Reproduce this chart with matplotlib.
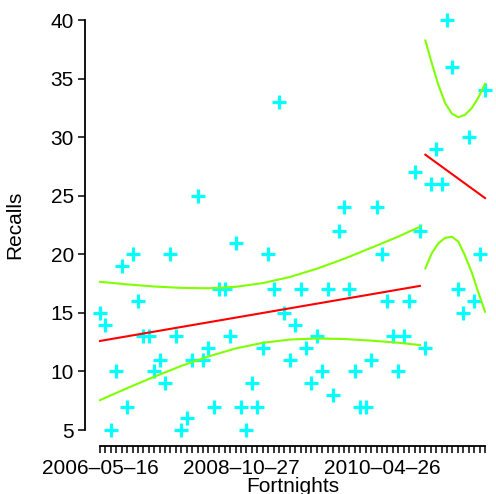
import numpy as np
import matplotlib
matplotlib.use("Agg")
import matplotlib.pyplot as plt

plt.rcParams['font.family'] = ['Liberation Sans', 'DejaVu Sans']

# recalls per fortnight
recalls = [15, 14, 5, 10, 19, 7, 20, 16, 13, 13, 10, 11, 9, 20, 13, 5, 6, 11,
           25, 11, 12, 7, 17, 17, 13, 21, 7, 5, 9, 7, 12, 20, 17, 33, 15, 11,
           14, 17, 12, 9, 13, 10, 17, 8, 22, 24, 17, 10, 7, 7, 11, 24, 20, 16,
           13, 10, 13, 16, 27, 22, 12, 26, 29, 26, 40, 36, 17, 15, 30, 16, 20, 34]
fortnight = np.arange(len(recalls))
tick_labels = {0: "2006\u201305\u201316", 26: "2008\u201310\u201327", 52: "2010\u201304\u201326"}

# fitted trend (red) for the two segments
fit1_x = [0, 59]
fit1_y = [12.6, 17.3]
fit2_x = [60, 71]
fit2_y = [28.5, 24.8]

# band (green), segment 1
band1_x = [0, 5, 10, 15, 20, 25, 30, 35, 40, 45, 50, 55, 59]
band1_hi = [17.65, 17.43, 17.25, 17.13, 17.10, 17.22, 17.54, 18.06, 18.77, 19.61, 20.55, 21.51, 22.35]
band1_lo = [7.55, 8.57, 9.55, 10.47, 11.28, 11.96, 12.44, 12.72, 12.81, 12.77, 12.63, 12.45, 12.25]

# band (green), segment 2
band2_x = [60, 61.2, 62.4, 63.65, 64.9, 66.1, 67.3, 68.6, 69.8, 71]
band2_hi = [38.25, 36.3, 34.46, 32.9, 32.0, 31.7, 31.9, 32.5, 33.4, 34.55]
band2_lo = [18.8, 20.1, 20.94, 21.4, 21.5, 21.07, 19.9, 18.4, 16.7, 15.1]

W, H = 496, 494
fig = plt.figure(figsize=(W / 100, H / 100), dpi=100)
left, right, top, bottom = 84.6, 500.4, 3.6, 446.4
ax = fig.add_axes([left / W, 1 - bottom / H, (right - left) / W, (bottom - top) / H])

ax.plot(fortnight, recalls, linestyle='none', marker='+', color='#00FFFF',
        markersize=9.5, markeredgewidth=2.3, zorder=2)

green = '#7FFF00'
ax.plot(band1_x, band1_hi, color=green, lw=1.5, zorder=3)
ax.plot(band1_x, band1_lo, color=green, lw=1.5, zorder=3)
ax.plot(band2_x, band2_hi, color=green, lw=1.5, zorder=3)
ax.plot(band2_x, band2_lo, color=green, lw=1.5, zorder=3)
ax.plot(fit1_x, fit1_y, color='#FF0000', lw=1.5, zorder=4)
ax.plot(fit2_x, fit2_y, color='#FF0000', lw=1.5, zorder=4)

n = len(recalls)
ax.set_xlim(-0.04 * (n - 1), (n - 1) * 1.04)
ax.set_ylim(5 - 0.04 * 35, 40 + 0.04 * 35)

for s in ['top', 'right']:
    ax.spines[s].set_visible(False)
ax.spines['left'].set_bounds(5, 40)
ax.spines['bottom'].set_bounds(0, n - 1)
for s in ['left', 'bottom']:
    ax.spines[s].set_linewidth(1.3)

ax.set_yticks(range(5, 41, 5))
ax.set_xticks(fortnight)
ax.set_xticklabels([tick_labels.get(i, "") for i in fortnight])
ax.tick_params(axis='both', direction='out', length=4.8, width=1.1, labelsize=15, pad=3)
ax.tick_params(axis='x', pad=4)

fig.text(15 / W, 1 - 225 / H, "Recalls", rotation=90, ha='center', va='center', fontsize=15)
fig.text(292.5 / W, 1 - 486 / H, "Fortnights", ha='center', va='center', fontsize=15)

fig.savefig("out.png", dpi=100)
